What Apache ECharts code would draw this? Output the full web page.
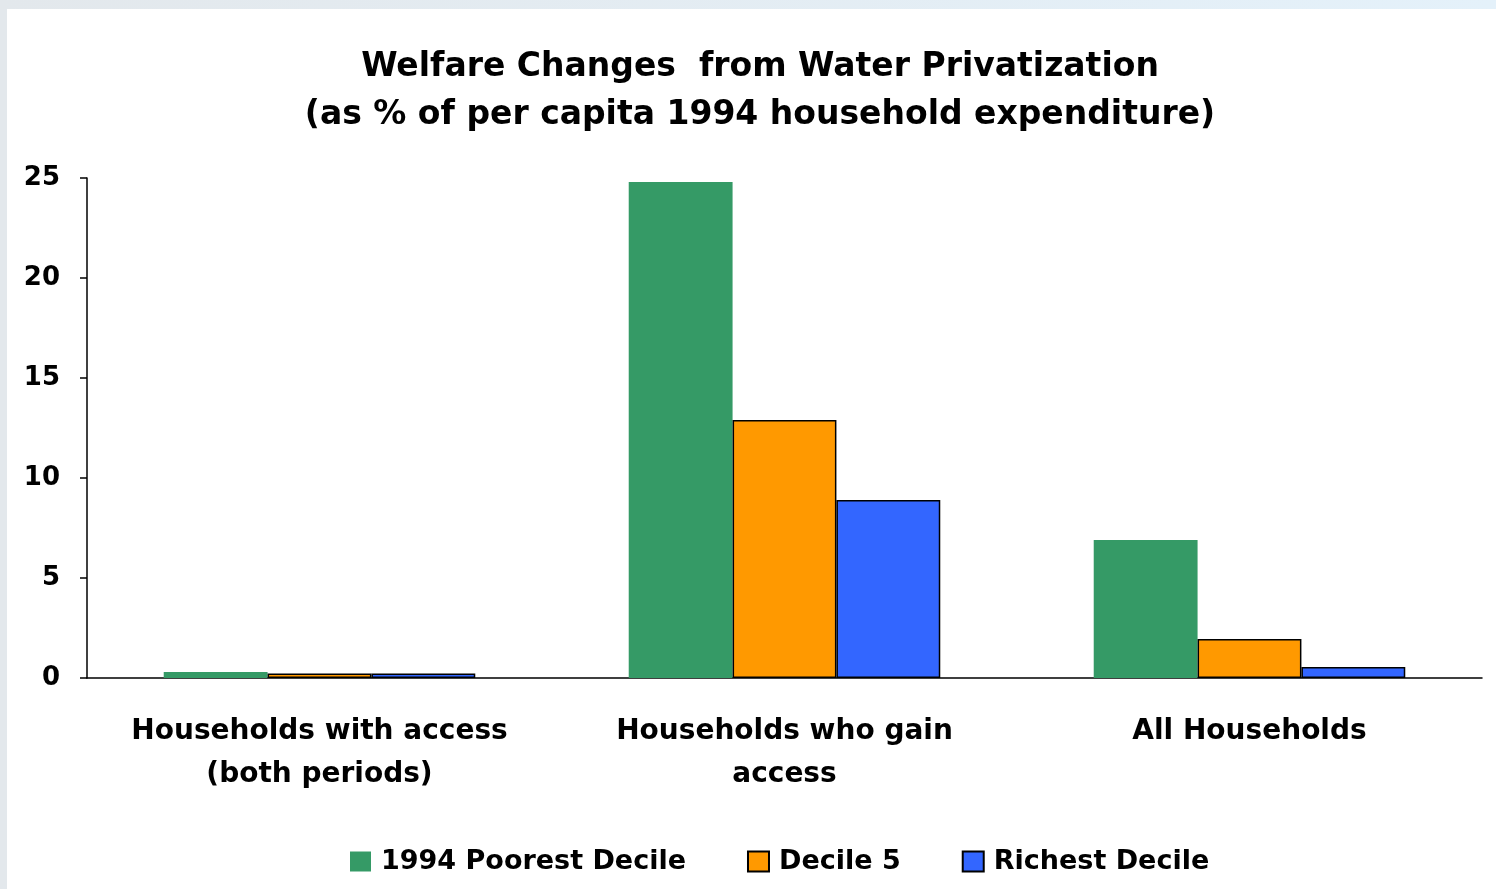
<!DOCTYPE html>
<html>
<head>
<meta charset="utf-8">
<script src="https://cdn.jsdelivr.net/npm/echarts@6/dist/echarts.min.js"></script>
<style>
  html, body { margin: 0; padding: 0; width: 1496px; height: 889px; overflow: hidden;
    background: linear-gradient(to right, #e3e8ec, #e4f1fa); }
  #chart { position: absolute; left: 7px; top: 9px; width: 1489px; height: 880px; background: #ffffff; }
</style>
</head>
<body>
<div id="chart"></div>
<script>
const categories = ['Households with access\n(both periods)', 'Households who gain\naccess', 'All Households'];
const seriesNames = ['1994 Poorest Decile', 'Decile 5', 'Richest Decile'];
const poorest = [0.3, 24.8, 6.9];
const decile5 = [0.22, 12.9, 1.95];
const richest = [0.22, 8.9, 0.55];
const yTicks = [0, 5, 10, 15, 20, 25];

const FONT = '"DejaVu Sans", "Liberation Sans", Arial, sans-serif';
const chart = echarts.init(document.getElementById('chart'));
const mk = (name, data, color, border) => ({
  name, type: 'bar', data,
  barGap: '0%', barCategoryGap: '33%',
  itemStyle: border ? { color, borderColor: '#000000', borderWidth: 1.5 } : { color },
  emphasis: { disabled: true }
});
chart.setOption({
  animation: false,
  textStyle: { fontFamily: FONT },
  title: {
    text: 'Welfare Changes  from Water Privatization\n(as % of per capita 1994 household expenditure)',
    left: 748, top: 29, textAlign: 'center',
    textStyle: { fontFamily: FONT, fontSize: 33, fontWeight: 'bold', color: '#000', lineHeight: 48 }
  },
  legend: {
    data: seriesNames,
    left: 343, top: 839, padding: 0,
    itemWidth: 21, itemHeight: 20, itemGap: 61,
    icon: 'rect',
    textStyle: { fontFamily: FONT, fontSize: 27, fontWeight: 'bold', color: '#000', padding: [0, 0, 0, 5] }
  },
  grid: { left: 80, top: 169, right: 14, bottom: 211, containLabel: false },
  xAxis: {
    type: 'category', data: categories,
    axisLine: { show: true, lineStyle: { color: '#000', width: 1.5 } },
    axisTick: { show: false },
    axisLabel: { fontFamily: FONT, fontSize: 28, fontWeight: 'bold', color: '#000', lineHeight: 43, margin: 32, interval: 0 }
  },
  yAxis: {
    type: 'value', min: yTicks[0], max: yTicks[yTicks.length - 1], interval: 5,
    axisLine: { show: true, lineStyle: { color: '#000', width: 1.5 } },
    axisTick: { show: true, length: 7, lineStyle: { color: '#000', width: 1.5 } },
    splitLine: { show: false },
    axisLabel: { fontFamily: FONT, fontSize: 26, fontWeight: 'bold', color: '#000', margin: 27, padding: [3, 0, 0, 0] }
  },
  series: [
    mk(seriesNames[0], poorest, '#359a66', false),
    mk(seriesNames[1], decile5, '#ff9900', true),
    mk(seriesNames[2], richest, '#3366ff', true)
  ]
});
</script>
</body>
</html>
